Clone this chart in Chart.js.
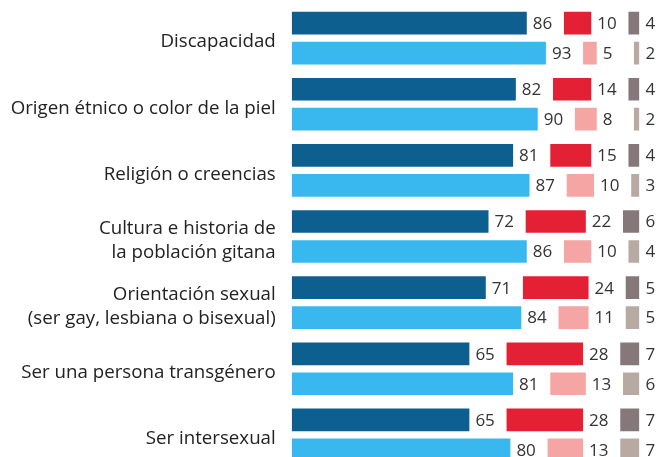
<!DOCTYPE html>
<html>
<head>
<meta charset="utf-8">
<script src="https://cdn.jsdelivr.net/npm/chart.js@4"></script>
<style>
  body { margin: 0; background: #fff; overflow: hidden; }
  #wrap { width: 658px; height: 470px; position: relative; }
</style>
</head>
<body>
<div id="wrap"><canvas id="grafico"></canvas></div>
<script>
// Categorías (etiquetas del eje)
const categorias = [
    'Discapacidad',
    'Origen étnico o color de la piel',
    'Religión o creencias',
    ['Cultura e historia de', 'la población gitana'],
    ['Orientación sexual', '(ser gay, lesbiana o bisexual)'],
    'Ser una persona transgénero',
    'Ser intersexual'
];

// Fila oscura
const comodoOscuro = [86, 82, 81, 72, 71, 65, 65];
const incomodoOscuro = [10, 14, 15, 22, 24, 28, 28];
const nsOscuro = [4, 4, 4, 6, 5, 7, 7];

// Fila clara
const comodoClaro = [93, 90, 87, 86, 84, 81, 80];
const incomodoClaro = [5, 8, 10, 10, 11, 13, 13];
const nsClaro = [2, 2, 3, 4, 5, 6, 7];

// separación entre segmentos (en unidades del eje)
const HUECO = 13.6;
const huecos = categorias.map(() => HUECO);

const FUENTE = "'Open Sans', 'DejaVu Sans', sans-serif";

const hueco = (stack) => ({
    data: huecos, stack, backgroundColor: 'rgba(0,0,0,0)', esHueco: true
});

// dibuja los valores a la derecha de cada barra
const etiquetasPlugin = {
    id: 'etiquetas',
    afterDatasetsDraw(chart) {
        const ctx = chart.ctx;
        ctx.save();
        ctx.font = '17px ' + FUENTE;
        ctx.fillStyle = '#333';
        ctx.textAlign = 'left';
        ctx.textBaseline = 'middle';
        chart.data.datasets.forEach((ds, i) => {
            if (ds.esHueco) return;
            chart.getDatasetMeta(i).data.forEach((bar, j) => {
                ctx.fillText(String(ds.data[j]), bar.x + 6, bar.y + 1);
            });
        });
        ctx.restore();
    }
};

const ctx = document.getElementById('grafico').getContext('2d');
new Chart(ctx, {
    type: 'bar',
    data: {
        labels: categorias,
        datasets: [
            { data: comodoOscuro, stack: 'a', backgroundColor: '#0d5f8f' },
            hueco('a'),
            { data: incomodoOscuro, stack: 'a', backgroundColor: '#e42034' },
            hueco('a'),
            { data: nsOscuro, stack: 'a', backgroundColor: '#86777b' },
            { data: comodoClaro, stack: 'b', backgroundColor: '#38b8ef' },
            hueco('b'),
            { data: incomodoClaro, stack: 'b', backgroundColor: '#f5a5a3' },
            hueco('b'),
            { data: nsClaro, stack: 'b', backgroundColor: '#b8aaa3' }
        ]
    },
    options: {
        indexAxis: 'y',
        responsive: true,
        maintainAspectRatio: false,
        animation: false,
        categoryPercentage: 0.906,
        barPercentage: 0.757,
        layout: { padding: { top: 5, bottom: 2, right: 18.6, left: 0 } },
        plugins: {
            legend: { display: false },
            tooltip: { enabled: false }
        },
        scales: {
            x: {
                stacked: true,
                display: false,
                min: 0,
                max: 100 + 2 * HUECO
            },
            y: {
                stacked: true,
                grid: { display: false, drawTicks: false },
                border: { display: false },
                afterFit: (scale) => {
                    scale.width = 291.7;
                    scale.paddingTop = 0;
                    scale.paddingBottom = 0;
                },
                ticks: {
                    padding: 16,
                    labelOffset: 4,
                    color: '#222',
                    font: { family: FUENTE, size: 18.7, lineHeight: 1.3 }
                }
            }
        }
    },
    plugins: [etiquetasPlugin]
});
</script>
</body>
</html>
